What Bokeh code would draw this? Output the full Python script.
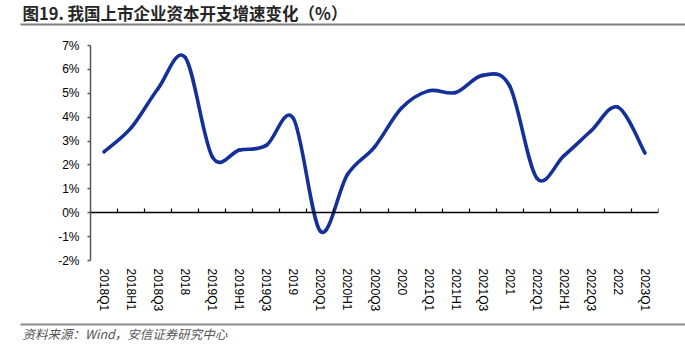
import math
from bokeh.plotting import figure
from bokeh.layouts import column
from bokeh.models import (Range1d, FixedTicker, LinearAxis, Label, BoxAnnotation)
from bokeh.embed import file_html
from bokeh.resources import INLINE

categories = ["2018Q1", "2018H1", "2018Q3", "2018", "2019Q1", "2019H1", "2019Q3", "2019",
              "2020Q1", "2020H1", "2020Q3", "2020", "2021Q1", "2021H1", "2021Q3", "2021",
              "2022Q1", "2022H1", "2022Q3", "2022", "2023Q1"]
capex_growth = [2.55, 3.55, 5.2, 6.5, 2.35, 2.62, 2.82, 3.95,
                -0.78, 1.6, 2.75, 4.38, 5.1, 5.03, 5.75, 5.3,
                1.45, 2.38, 3.42, 4.42, 2.5]
y_ticks = [-2, -1, 0, 1, 2, 3, 4, 5, 6, 7]
y_tick_labels = ["-2%", "-1%", "0%", "1%", "2%", "3%", "4%", "5%", "6%", "7%"]

title_text = "图19. 我国上市企业资本开支增速变化（%）"
source_text = "资料来源：Wind，安信证券研究中心"

n = len(categories)
xs = list(range(n))

W = 685
HEAD_H, MAIN_H, FOOT_H = 30, 288, 36


def blank_fig(h):
    f = figure(width=W, height=h, output_backend="svg", toolbar_location=None,
               x_range=Range1d(0, W), y_range=Range1d(h, 0),
               x_axis_type=None, y_axis_type=None, frame_align=False,
               min_border=0, min_border_left=0, min_border_right=0,
               min_border_top=0, min_border_bottom=0)
    f.grid.visible = False
    f.outline_line_color = None
    f.background_fill_color = "white"
    f.border_fill_color = "white"
    return f


# header
head = blank_fig(HEAD_H)
head.add_layout(Label(x=22, y=12, text=title_text, text_font="Noto Sans CJK SC",
                      text_font_style="bold", text_font_size="16.5px", text_color="#262626",
                      text_baseline="middle", text_align="left"))
head.add_layout(BoxAnnotation(left=20, right=W, top=23, bottom=25,
                              fill_color="#7f7f7f", fill_alpha=1, line_color=None))

# main chart
left, right, top, bottom = 90, 27, 15, 58
p = figure(width=W, height=MAIN_H, output_backend="svg", toolbar_location=None,
           x_range=Range1d(-0.5, n - 0.5), y_range=Range1d(-2, 7),
           min_border_left=left, min_border_right=right,
           min_border_top=top, min_border_bottom=bottom,
           x_axis_location="below", frame_align=False)
p.outline_line_color = None
p.xgrid.visible = False
p.ygrid.visible = False
p.background_fill_color = "white"
p.border_fill_color = "white"

ya = p.yaxis[0]
ya.ticker = FixedTicker(ticks=y_ticks)
ya.major_label_overrides = {t: l for t, l in zip(y_ticks, y_tick_labels)}
ya.minor_tick_line_color = None
ya.axis_line_color = "#555555"
ya.axis_line_width = 1.5
ya.major_tick_line_color = "#555555"
ya.major_tick_line_width = 1.5
ya.major_tick_in = 0
ya.major_tick_out = 3
ya.major_label_standoff = 8
ya.major_label_text_font = "Liberation Sans"
ya.major_label_text_font_size = "12px"
ya.major_label_text_color = "#000000"

xa = p.xaxis[0]
xa.ticker = FixedTicker(ticks=xs)
xa.major_label_overrides = {i: c for i, c in zip(xs, categories)}
xa.major_label_orientation = -math.pi / 2
xa.axis_line_color = None
xa.major_tick_line_color = None
xa.minor_tick_line_color = None
xa.major_tick_out = 0
xa.major_tick_in = 0
xa.major_label_standoff = 8
xa.major_label_text_font = "Liberation Sans"
xa.major_label_text_font_size = "12px"
xa.major_label_text_color = "#000000"

za = LinearAxis(fixed_location=0,
                ticker=FixedTicker(ticks=[i - 0.5 for i in range(n + 1)]))
za.axis_line_color = "#000000"
za.axis_line_width = 1.5
za.major_tick_line_color = "#000000"
za.major_tick_line_width = 1.2
za.major_tick_in = 4
za.major_tick_out = 0
za.minor_tick_line_color = None
za.major_label_text_color = None
za.major_label_text_font_size = "0px"
p.add_layout(za, "below")

# smooth line via bezier segments (Catmull-Rom style control points)
x0, y0, x1, y1, cx0, cy0, cx1, cy1 = [], [], [], [], [], [], [], []
for i in range(n - 1):
    xm1 = xs[i - 1] if i > 0 else xs[i]
    ym1 = capex_growth[i - 1] if i > 0 else capex_growth[i]
    xp2 = xs[i + 2] if i + 2 < n else xs[i + 1]
    yp2 = capex_growth[i + 2] if i + 2 < n else capex_growth[i + 1]
    x0.append(xs[i]); y0.append(capex_growth[i])
    x1.append(xs[i + 1]); y1.append(capex_growth[i + 1])
    cx0.append(xs[i] + (xs[i + 1] - xm1) / 6.0)
    cy0.append(capex_growth[i] + (capex_growth[i + 1] - ym1) / 6.0)
    cx1.append(xs[i + 1] - (xp2 - xs[i]) / 6.0)
    cy1.append(capex_growth[i + 1] - (yp2 - capex_growth[i]) / 6.0)

p.bezier(x0=x0, y0=y0, x1=x1, y1=y1, cx0=cx0, cy0=cy0, cx1=cx1, cy1=cy1,
         line_color="#15309A", line_width=3.6, line_cap="round")

# footer
foot = blank_fig(FOOT_H)
foot.add_layout(BoxAnnotation(left=20, right=W, top=5, bottom=7,
                              fill_color="#8a8a8a", fill_alpha=1, line_color=None))
foot.add_layout(Label(x=22, y=15, text=source_text, text_font="Noto Sans CJK SC",
                      text_font_style="italic", text_font_size="12.5px", text_color="#555555",
                      text_baseline="middle", text_align="left"))

layout = column(head, p, foot, spacing=0)
open("out.html", "w").write(file_html(layout, INLINE))
